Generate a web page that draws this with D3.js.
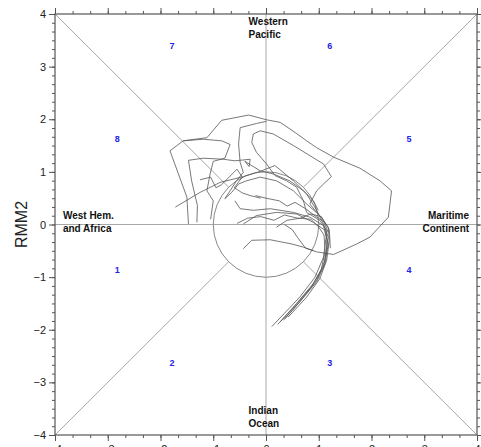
<!DOCTYPE html>
<html>
<head>
<meta charset="utf-8">
<script src="https://cdn.jsdelivr.net/npm/d3@7"></script>
<style>
  body { margin: 0; background: #fff; }
  svg text { font-family: "Liberation Sans", Arial, sans-serif; }
</style>
</head>
<body>
<div id="chart"></div>
<script>
// axis ticks
var majorTicks = [-4, -3, -2, -1, 0, 1, 2, 3, 4];

// phase labels [x, y, text]
var phaseLabels = [
  [-2.82, -0.86, "1"], [-1.78, -2.63, "2"], [1.21, -2.63, "3"], [2.71, -0.86, "4"],
  [2.71, 1.62, "5"], [1.21, 3.39, "6"], [-1.78, 3.39, "7"], [-2.82, 1.62, "8"]
];

// region labels
var regionLabels = [
  { x: -0.33, y: 3.8, lines: ["Western", "Pacific"], anchor: "start" },
  { x: -0.33, y: -3.6, lines: ["Indian", "Ocean"], anchor: "start" },
  { x: -3.85, y: 0.1, lines: ["West Hem.", "and Africa"], anchor: "start" },
  { x: 3.85, y: 0.1, lines: ["Maritime", "Continent"], anchor: "end" }
];

// RMM trajectories (RMM1, RMM2)
var track1 = [[-0.43,-0.46],[-0.27,-0.30],[0.08,-0.29],[0.49,-0.37],[0.71,-0.43],[0.96,-0.52],[1.28,-0.57],
  [1.72,-0.37],[1.97,-0.24],[2.32,0.14],[2.38,0.64],[2.16,0.83],[1.78,1.07],[1.28,1.28],[0.96,1.46],
  [0.77,1.59],[0.55,1.75],[0.27,1.94],[0.01,1.99],[-0.33,2.08],[-0.84,1.98],[-1.12,1.65],[-1.57,1.59],
  [-1.82,1.40],[-1.66,0.96],[-1.50,0.52],[-1.47,0.01]];
var track2 = [[0.96,0.23],[0.83,0.39],[0.96,0.64],[1.09,0.77],[1.24,0.91],[1.09,1.15],[0.83,1.31],[0.52,1.50],
  [0.14,1.72],[-0.11,1.78],[-0.24,1.72],[-0.27,1.56],[-0.18,1.37],[0.01,1.15],[0.17,0.93],[0.39,0.83],
  [0.58,0.71],[0.71,0.45],[0.77,0.23],[1.02,0.08],[1.15,-0.11],[1.15,-0.43],[1.09,-0.81],[0.90,-1.12],
  [0.58,-1.50],[0.27,-1.85]];
var track3 = [[0.01,1.96],[-0.18,1.92],[-0.49,1.84],[-0.52,1.53],[-0.49,1.18],[-0.43,0.99],[-0.56,0.83],
  [-0.68,0.64],[-0.78,0.49],[-0.65,0.61],[-0.52,0.77],[-0.37,0.83],[-0.11,0.90],[0.20,0.83],[0.52,0.64],
  [0.77,0.39],[1.02,0.17],[1.18,-0.05],[1.20,-0.30],[1.15,-0.68],[1.02,-1.03],[0.77,-1.38],[0.42,-1.76]];
var track4 = [[-1.31,0.04],[-1.30,0.36],[-1.41,0.83],[-1.47,1.22],[-1.19,1.26],[-0.81,1.24],[-0.59,1.21],
  [-0.30,1.24],[-0.32,1.10],[-0.40,1.20],[-0.11,1.02],[0.14,0.96],[0.45,0.83],[0.71,0.64],[0.90,0.45],[0.99,0.27]];
var track5 = [[-1.57,1.59],[-1.19,1.62],[-0.84,1.59],[-0.68,1.52],[-0.78,1.26],[-1.00,1.20],[-1.06,0.96],
  [-1.12,0.64],[-1.00,0.45],[-1.05,0.10]];
var track6 = [[-0.43,0.01],[-0.18,0.17],[0.20,0.23],[0.58,0.20],[0.90,0.04],[1.12,-0.11],[1.18,-0.37],
  [1.12,-0.74],[0.96,-1.09],[0.64,-1.47],[0.36,-1.79]];
var track7 = [[-0.59,0.45],[-0.49,0.30],[-0.24,0.27],[0.08,0.30],[0.52,0.23],[0.83,0.14],[1.09,-0.02],
  [1.14,-0.24],[1.09,-0.62],[0.93,-1.00],[0.64,-1.38],[0.11,-1.94]];
var track8 = [[-1.72,0.33],[-1.25,0.61],[-0.87,0.80],[-0.43,0.91],[-0.11,1.01],[0.17,1.12],[0.52,0.83],
  [0.77,0.58],[0.96,0.27],[1.09,0.01],[1.18,-0.24],[1.12,-0.68],[0.96,-1.06],[0.64,-1.47],[0.33,-1.82]];
var track9 = [[0.20,-0.05],[0.40,0.08],[0.65,0.12],[0.85,0.20],[1.05,0.15],[1.20,-0.10],[1.22,-0.45]];
var track10 = [[-0.55,0.02],[-0.35,0.12],[-0.10,0.15],[0.15,0.08],[0.35,0.18],[0.60,0.12],[0.85,0.10],
  [1.00,-0.05],[1.10,-0.20],[1.12,-0.50],[1.05,-0.85],[0.85,-1.20],[0.50,-1.60],[0.22,-1.90]];
var track11 = [[-0.20,0.55],[0.00,0.50],[0.25,0.45],[0.40,0.35],[0.55,0.42],[0.75,0.30],[0.95,0.15],
  [1.10,0.05],[1.18,-0.15]];
var track12 = [[-1.25,0.85],[-1.05,0.90],[-0.95,0.70],[-0.85,0.75],[-0.70,0.90],[-0.55,1.05],[-0.45,0.90],
  [-0.60,0.70],[-0.45,0.60],[-0.30,0.55],[-0.10,0.50]];
var track13 = [[0.35,0.00],[0.50,-0.10],[0.60,-0.25],[0.75,-0.45],[0.90,-0.50]];

var tracks = [track1, track2, track3, track4, track5, track6, track7, track8, track9,
  track10, track11, track12, track13];

var width = 481, height = 447;

var svg = d3.select("#chart").append("svg")
  .attr("width", width)
  .attr("height", height);

var x = d3.scaleLinear().domain([-4, 4]).range([55, 477]);
var y = d3.scaleLinear().domain([-4, 4]).range([435, 14]);

var grid = svg.append("g").attr("stroke", "#a8a8a8").attr("stroke-width", 1).attr("fill", "none");

// axis cross lines
grid.append("line").attr("x1", x(-4)).attr("x2", x(4)).attr("y1", y(0)).attr("y2", y(0));
grid.append("line").attr("x1", x(0)).attr("x2", x(0)).attr("y1", y(-4)).attr("y2", y(4));

// diagonals from corners to the unit circle
var r = Math.SQRT1_2;
[[1, 1], [1, -1], [-1, 1], [-1, -1]].forEach(function(s) {
  grid.append("line")
    .attr("x1", x(4 * s[0])).attr("y1", y(4 * s[1]))
    .attr("x2", x(r * s[0])).attr("y2", y(r * s[1]));
});

// unit circle
grid.append("circle")
  .attr("cx", x(0)).attr("cy", y(0))
  .attr("r", x(1) - x(0))
  .attr("stroke", "#888");

// trajectories
var line = d3.line().x(d => x(d[0])).y(d => y(d[1]));
svg.append("g").selectAll("path")
  .data(tracks)
  .enter().append("path")
  .attr("d", line)
  .attr("fill", "none")
  .attr("stroke", "#555")
  .attr("stroke-width", 0.8);

// frame
svg.append("rect")
  .attr("x", x(-4)).attr("y", y(4))
  .attr("width", x(4) - x(-4)).attr("height", y(-4) - y(4))
  .attr("fill", "none").attr("stroke", "#555").attr("stroke-width", 1.2);

// axes
var minorX = d3.range(-12, 13).map(d => d / 3);
var minorY = d3.range(-24, 25).map(d => d / 6);

function styleAxis(g) {
  g.select(".domain").remove();
  g.selectAll("line").attr("stroke", "#555");
  g.selectAll("text").attr("fill", "#222").style("font-size", "11px");
}

svg.append("g").attr("transform", "translate(0," + y(-4) + ")")
  .call(d3.axisBottom(x).tickValues(minorX).tickSize(3).tickFormat(""))
  .call(styleAxis);
svg.append("g").attr("transform", "translate(0," + y(-4) + ")")
  .call(d3.axisBottom(x).tickValues(majorTicks).tickSize(6).tickPadding(4).tickFormat(d3.format("d")))
  .call(styleAxis);
svg.append("g").attr("transform", "translate(0," + y(4) + ")")
  .call(d3.axisTop(x).tickValues(minorX).tickSize(3).tickFormat(""))
  .call(styleAxis);
svg.append("g").attr("transform", "translate(0," + y(4) + ")")
  .call(d3.axisTop(x).tickValues(majorTicks).tickSize(6).tickFormat(""))
  .call(styleAxis);

svg.append("g").attr("transform", "translate(" + x(-4) + ",0)")
  .call(d3.axisLeft(y).tickValues(minorY).tickSize(3).tickFormat(""))
  .call(styleAxis);
svg.append("g").attr("transform", "translate(" + x(-4) + ",0)")
  .call(d3.axisLeft(y).tickValues(majorTicks).tickSize(6).tickPadding(3).tickFormat(d3.format("d")))
  .call(styleAxis);
svg.append("g").attr("transform", "translate(" + x(4) + ",0)")
  .call(d3.axisRight(y).tickValues(minorY).tickSize(3).tickFormat(""))
  .call(styleAxis);
svg.append("g").attr("transform", "translate(" + x(4) + ",0)")
  .call(d3.axisRight(y).tickValues(majorTicks).tickSize(6).tickFormat(""))
  .call(styleAxis);

// y axis title
svg.append("text")
  .attr("transform", "translate(27," + y(0) + ") rotate(-90)")
  .attr("text-anchor", "middle")
  .style("font-size", "16px")
  .attr("fill", "#222")
  .text("RMM2");

// phase numbers
svg.append("g").selectAll("text")
  .data(phaseLabels)
  .enter().append("text")
  .attr("x", d => x(d[0]))
  .attr("y", d => y(d[1]))
  .attr("dy", "0.35em")
  .attr("text-anchor", "middle")
  .style("font-size", "9px")
  .style("font-weight", "bold")
  .attr("fill", "#2424e6")
  .text(d => d[2]);

// region names
regionLabels.forEach(function(d) {
  var t = svg.append("text")
    .attr("x", x(d.x))
    .attr("y", y(d.y))
    .attr("text-anchor", d.anchor)
    .style("font-size", "10px")
    .style("font-weight", "bold")
    .attr("fill", "#111");
  d.lines.forEach(function(s, i) {
    t.append("tspan").attr("x", x(d.x)).attr("dy", i === 0 ? 0 : 13).text(s);
  });
});
</script>
</body>
</html>
